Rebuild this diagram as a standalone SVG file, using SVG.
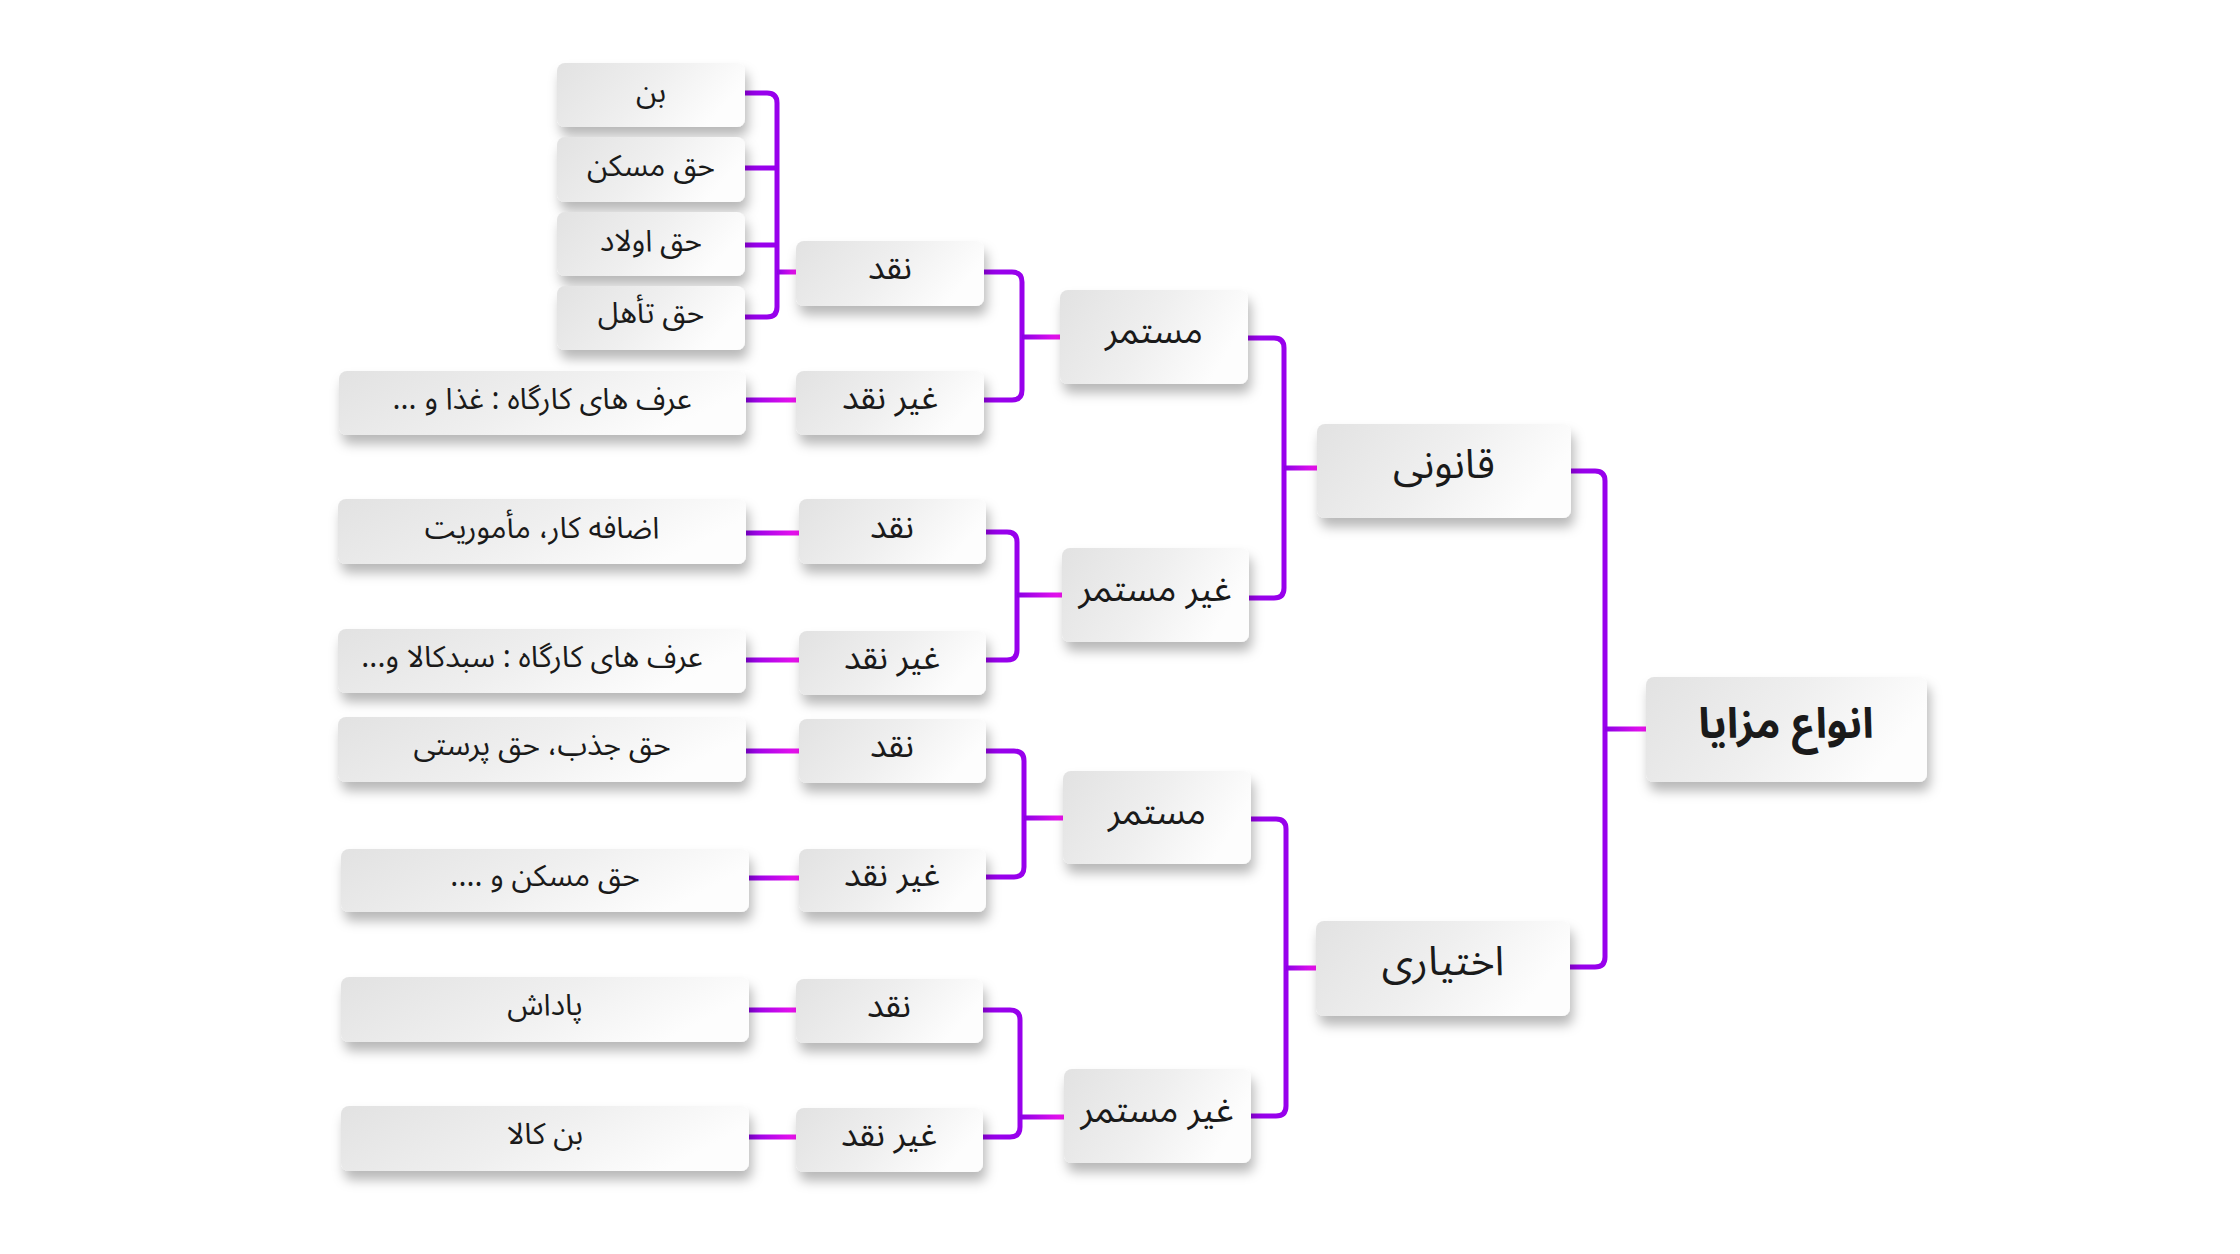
<svg xmlns="http://www.w3.org/2000/svg" width="2240" height="1254" viewBox="0 0 2240 1254">
<defs>
<linearGradient id="box" x1="0" y1="0" x2="1" y2="0.3">
<stop offset="0" stop-color="#e2e2e2"/>
<stop offset="0.55" stop-color="#efefef"/>
<stop offset="1" stop-color="#fdfdfd"/>
</linearGradient>
<linearGradient id="stub" x1="0" y1="0" x2="1" y2="0">
<stop offset="0" stop-color="#8a00e4"/>
<stop offset="1" stop-color="#f012f0"/>
</linearGradient>
<filter id="sh" x="-10%" y="-20%" width="125%" height="160%">
<feDropShadow dx="3" dy="9" stdDeviation="6" flood-color="#000" flood-opacity="0.28"/>
</filter>
</defs>
<style>
.b{fill:url(#box);filter:url(#sh)}
.t{font-family:"Noto Sans Arabic","DejaVu Sans",sans-serif;fill:#1a1a1a;text-anchor:middle;dominant-baseline:central;direction:rtl}
.s1{font-size:30px}
.s2{font-size:34px}
.s3{font-size:36px}
.s4{font-size:41px}
.s5{font-size:42px;font-weight:bold}
.c{fill:none;stroke:#9800ec;stroke-width:5;stroke-linecap:butt}
.st{fill:url(#stub)}
</style>
<rect width="2240" height="1254" fill="#ffffff"/>

<g id="connectors">
<path class="c" d="M745 93 H767 Q777 93 777 103 V307 Q777 317 767 317 H745 M745 168 H777 M745 245 H777"/>
<rect class="st" x="777" y="269.5" width="19" height="5"/>
<rect class="st" x="746" y="397.5" width="50" height="5"/>
<path class="c" d="M984 272 H1012 Q1022 272 1022 282 V390 Q1022 400 1012 400 H984"/>
<rect class="st" x="1022" y="334.5" width="38" height="5"/>
<rect class="st" x="746" y="530.5" width="53" height="5"/>
<rect class="st" x="746" y="657.5" width="53" height="5"/>
<path class="c" d="M986 532 H1007 Q1017 532 1017 542 V650 Q1017 660 1007 660 H986"/>
<rect class="st" x="1017" y="592.5" width="45" height="5"/>
<path class="c" d="M1248 338 H1274 Q1284 338 1284 348 V588 Q1284 598 1274 598 H1249"/>
<rect class="st" x="1284" y="465.5" width="33" height="5"/>
<rect class="st" x="746" y="748.5" width="53" height="5"/>
<rect class="st" x="749" y="875.5" width="50" height="5"/>
<path class="c" d="M986 751 H1014 Q1024 751 1024 761 V867 Q1024 877 1014 877 H986"/>
<rect class="st" x="1024" y="815.5" width="39" height="5"/>
<rect class="st" x="749" y="1007.5" width="47" height="5"/>
<rect class="st" x="749" y="1134.5" width="47" height="5"/>
<path class="c" d="M983 1010 H1010 Q1020 1010 1020 1020 V1127 Q1020 1137 1010 1137 H983"/>
<rect class="st" x="1020" y="1114.5" width="44" height="5"/>
<path class="c" d="M1251 819 H1276 Q1286 819 1286 829 V1106 Q1286 1116 1276 1116 H1251"/>
<rect class="st" x="1286" y="965.5" width="30" height="5"/>
<path class="c" d="M1571 471 H1595 Q1605 471 1605 481 V957 Q1605 967 1595 967 H1569"/>
<rect class="st" x="1605" y="726.5" width="41" height="5"/>
</g>

<g id="leaf-bon"><rect class="b" x="557" y="63" width="188" height="64" rx="8"/><text class="t s1" x="651" y="92">بن</text></g>
<g id="leaf-maskan"><rect class="b" x="557" y="137" width="188" height="65" rx="8"/><text class="t s1" x="651" y="166">حق مسکن</text></g>
<g id="leaf-olad"><rect class="b" x="557" y="212" width="188" height="64" rx="8"/><text class="t s1" x="651" y="241">حق اولاد</text></g>
<g id="leaf-taahol"><rect class="b" x="557" y="286" width="188" height="64" rx="8"/><text class="t s1" x="651" y="313">حق تأهل</text></g>
<g id="leaf-orf-ghaza"><rect class="b" x="339" y="371" width="407" height="64" rx="8"/><text class="t s1" x="542" y="399">عرف های کارگاه : غذا و ...</text></g>
<g id="leaf-ezafekar"><rect class="b" x="338" y="499" width="408" height="65" rx="8"/><text class="t s1" x="542" y="528">اضافه کار، مأموریت</text></g>
<g id="leaf-orf-sabad"><rect class="b" x="338" y="629" width="408" height="64" rx="8"/><text class="t s1" x="532" y="657">عرف های کارگاه : سبدکالا و...</text></g>
<g id="leaf-jazb"><rect class="b" x="338" y="717" width="408" height="65" rx="8"/><text class="t s1" x="542" y="745">حق جذب، حق پرستی</text></g>
<g id="leaf-maskan2"><rect class="b" x="341" y="849" width="408" height="63" rx="8"/><text class="t s1" x="545" y="876">حق مسکن و ....</text></g>
<g id="leaf-padash"><rect class="b" x="341" y="977" width="408" height="65" rx="8"/><text class="t s1" x="545" y="1005">پاداش</text></g>
<g id="leaf-bonkala"><rect class="b" x="341" y="1106" width="408" height="65" rx="8"/><text class="t s1" x="545" y="1134">بن کالا</text></g>

<g id="naghd1"><rect class="b" x="796" y="241" width="188" height="65" rx="8"/><text class="t s2" x="890" y="268">نقد</text></g>
<g id="gheyrnaghd1"><rect class="b" x="796" y="371" width="188" height="64" rx="8"/><text class="t s2" x="890" y="398">غیر نقد</text></g>
<g id="naghd2"><rect class="b" x="799" y="499" width="187" height="65" rx="8"/><text class="t s2" x="892" y="527">نقد</text></g>
<g id="gheyrnaghd2"><rect class="b" x="799" y="631" width="187" height="64" rx="8"/><text class="t s2" x="892" y="658">غیر نقد</text></g>
<g id="naghd3"><rect class="b" x="799" y="719" width="187" height="64" rx="8"/><text class="t s2" x="892" y="746">نقد</text></g>
<g id="gheyrnaghd3"><rect class="b" x="799" y="849" width="187" height="63" rx="8"/><text class="t s2" x="892" y="875">غیر نقد</text></g>
<g id="naghd4"><rect class="b" x="796" y="979" width="187" height="64" rx="8"/><text class="t s2" x="889" y="1006">نقد</text></g>
<g id="gheyrnaghd4"><rect class="b" x="796" y="1108" width="187" height="64" rx="8"/><text class="t s2" x="889" y="1135">غیر نقد</text></g>

<g id="mostamar1"><rect class="b" x="1060" y="290" width="188" height="94" rx="8"/><text class="t s3" x="1154" y="332">مستمر</text></g>
<g id="gheyrmostamar1"><rect class="b" x="1062" y="548" width="187" height="94" rx="8"/><text class="t s3" x="1155" y="590">غیر مستمر</text></g>
<g id="mostamar2"><rect class="b" x="1063" y="771" width="188" height="93" rx="8"/><text class="t s3" x="1157" y="813">مستمر</text></g>
<g id="gheyrmostamar2"><rect class="b" x="1064" y="1069" width="187" height="94" rx="8"/><text class="t s3" x="1157" y="1111">غیر مستمر</text></g>

<g id="ghanooni"><rect class="b" x="1317" y="424" width="254" height="94" rx="8"/><text class="t s4" x="1444" y="465">قانونی</text></g>
<g id="ekhtiari"><rect class="b" x="1316" y="921" width="254" height="95" rx="8"/><text class="t s4" x="1443" y="962">اختیاری</text></g>

<g id="root"><rect class="b" x="1646" y="677" width="281" height="105" rx="8"/><text class="t s5" x="1786" y="724">انواع مزایا</text></g>
</svg>
